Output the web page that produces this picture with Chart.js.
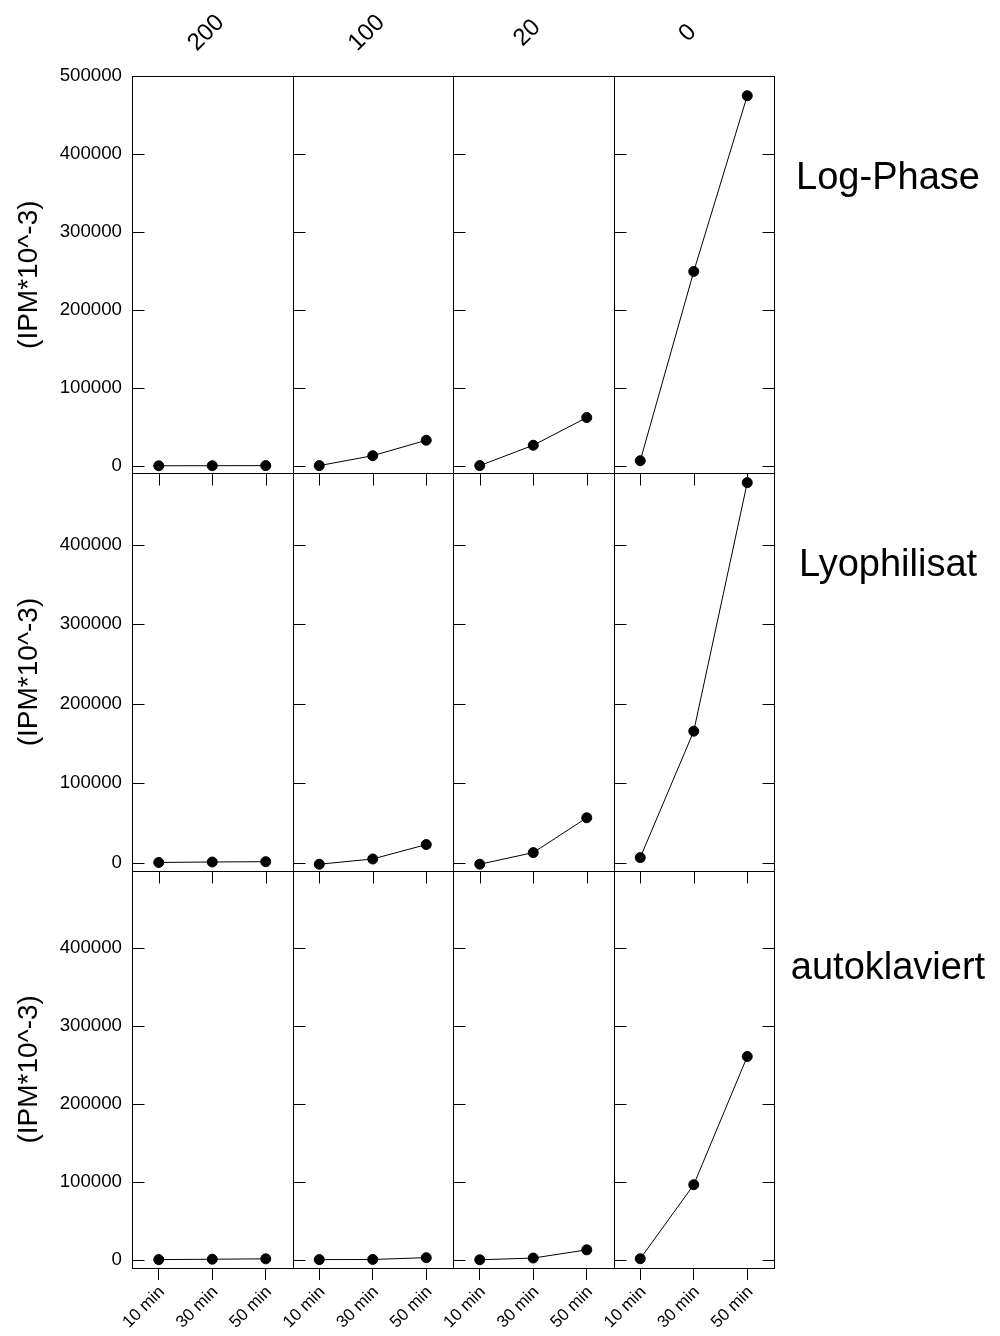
<!DOCTYPE html>
<html>
<head>
<meta charset="utf-8">
<script src="https://cdn.jsdelivr.net/npm/chart.js@4.4.1/dist/chart.umd.min.js"></script>
<style>
  html, body { margin: 0; padding: 0; background: #fff; }
  #wrap { position: relative; width: 1000px; height: 1336px; }
</style>
</head>
<body>
<div id="wrap"><canvas id="trellis" width="1000" height="1336"></canvas></div>
<script>
/* Panel labels */
const times = ["10 min", "30 min", "50 min"];
const doses = ["200", "100", "20", "0"];
const phases = ["Log-Phase", "Lyophilisat", "autoklaviert"];
const yTitle = "(IPM*10^-3)";
const yTicks = [0, 100000, 200000, 300000, 400000, 500000];

/* Values (one array per panel) */
// Log-Phase
const log200 = [300, 400, 500];
const log100 = [500, 13200, 33000];
const log20 = [500, 26600, 62100];
const log0 = [6800, 249400, 474700];
// Lyophilisat
const lyo200 = [200, 800, 1200];
const lyo100 = [-2000, 4600, 22700];
const lyo20 = [-2000, 12600, 56400];
const lyo0 = [6300, 165300, 477800];
// autoklaviert
const auto200 = [500, 1000, 1500];
const auto100 = [500, 700, 3000];
const auto20 = [300, 2500, 13000];
const auto0 = [1600, 96500, 260800];

/* y range per row */
const yMin = [-9400, -10100, -10250];
const yMax = [500000, 489500, 499000];

const panelValues = [
  [log200, log100, log20, log0],
  [lyo200, lyo100, lyo20, lyo0],
  [auto200, auto100, auto20, auto0]
];

// where the row names sit (text middle), in page pixels
const rowLabelX = 888;
const rowLabelY = [179, 566, 969];

const FONT = "'Liberation Sans', Arial, Helvetica, sans-serif";
Chart.defaults.font.family = FONT;
Chart.defaults.color = "#000";

/* Scales: 4 stacked x axes (columns) and 3 stacked y axes (rows) */
const scales = {};
doses.forEach((d, c) => {
  scales["x" + c] = {
    type: "category",
    labels: times,
    offset: true,
    position: "bottom",
    stack: "cols",
    stackWeight: 1,
    weight: c,
    grid: { drawOnChartArea: false, drawTicks: true, tickLength: 12, tickColor: "#000", tickWidth: 1 },
    border: { display: false },
    ticks: { autoSkip: false, minRotation: 45, maxRotation: 45, padding: 2, labelOffset: 3, font: { size: 17 } },
    afterFit: (axis) => { axis.height = 68; }
  };
});
phases.forEach((p, r) => {
  scales["y" + r] = {
    type: "linear",
    position: "left",
    stack: "rows",
    stackWeight: 1,
    weight: phases.length - r,
    min: yMin[r],
    max: yMax[r],
    grid: { drawOnChartArea: false, drawTicks: false },
    border: { display: false },
    ticks: {
      padding: 10,
      font: { size: 18.7 },
      callback: (v) => String(v)
    },
    afterBuildTicks: (axis) => {
      axis.ticks = yTicks.filter((v) => v >= axis.min && v <= axis.max).map((v) => ({ value: v }));
    },
    title: { display: true, text: yTitle, font: { size: 28 }, padding: { top: 12, bottom: 0 } },
    afterFit: (axis) => { axis.width = 132; }
  };
});

/* One dataset per panel */
const datasets = [];
phases.forEach((p, r) => {
  doses.forEach((d, c) => {
    datasets.push({
      label: p + " " + d,
      data: panelValues[r][c],
      xAxisID: "x" + c,
      yAxisID: "y" + r,
      borderColor: "#000",
      backgroundColor: "#000",
      borderWidth: 1,
      pointRadius: 5,
      pointBorderWidth: 1,
      pointBackgroundColor: "#000",
      pointBorderColor: "#000",
      tension: 0
    });
  });
});

/* Frames, inside ticks, strip labels and row names */
const panelDecor = {
  id: "panelDecor",
  afterDatasetsDraw(chart) {
    const ctx = chart.ctx;
    const line = (x1, y1, x2, y2) => { ctx.beginPath(); ctx.moveTo(x1, y1); ctx.lineTo(x2, y2); ctx.stroke(); };
    ctx.save();
    ctx.strokeStyle = "#000";
    ctx.lineWidth = 1;
    phases.forEach((p, r) => {
      const ys = chart.scales["y" + r];
      doses.forEach((d, c) => {
        const xs = chart.scales["x" + c];
        const l = Math.round(xs.left) + 0.5, rt = Math.round(xs.right) + 0.5;
        const t = Math.round(ys.top) + 0.5, b = Math.round(ys.bottom) + 0.5;
        ctx.strokeRect(l, t, rt - l, b - t);
        ys.ticks.forEach((tk) => {
          const py = Math.round(ys.getPixelForValue(tk.value)) + 0.5;
          line(l, py, l + 12, py);
          if (c === doses.length - 1) line(rt - 12, py, rt, py);
        });
        if (r < phases.length - 1) {
          times.forEach((tm, i) => {
            const px = Math.round(xs.getPixelForTick(i)) + 0.5;
            line(px, b, px, b + 12);
          });
        }
      });
    });
    ctx.fillStyle = "#000";
    ctx.textAlign = "center";
    ctx.textBaseline = "middle";
    ctx.font = "24px " + FONT;
    doses.forEach((d, c) => {
      const xs = chart.scales["x" + c];
      ctx.save();
      ctx.translate((xs.left + xs.right) / 2 - 6, 33);
      ctx.rotate(-Math.PI / 4);
      ctx.fillText(d, 0, 0);
      ctx.restore();
    });
    ctx.font = "38px " + FONT;
    phases.forEach((p, r) => ctx.fillText(p, rowLabelX, rowLabelY[r]));
    ctx.restore();
  }
};

new Chart(document.getElementById("trellis").getContext("2d"), {
  type: "line",
  data: { datasets: datasets },
  options: {
    responsive: false,
    animation: false,
    devicePixelRatio: 1,
    layout: { padding: { top: 76, right: 226, bottom: 0, left: 0 } },
    scales: scales,
    plugins: { legend: { display: false }, tooltip: { enabled: false } }
  },
  plugins: [panelDecor]
});
</script>
</body>
</html>
